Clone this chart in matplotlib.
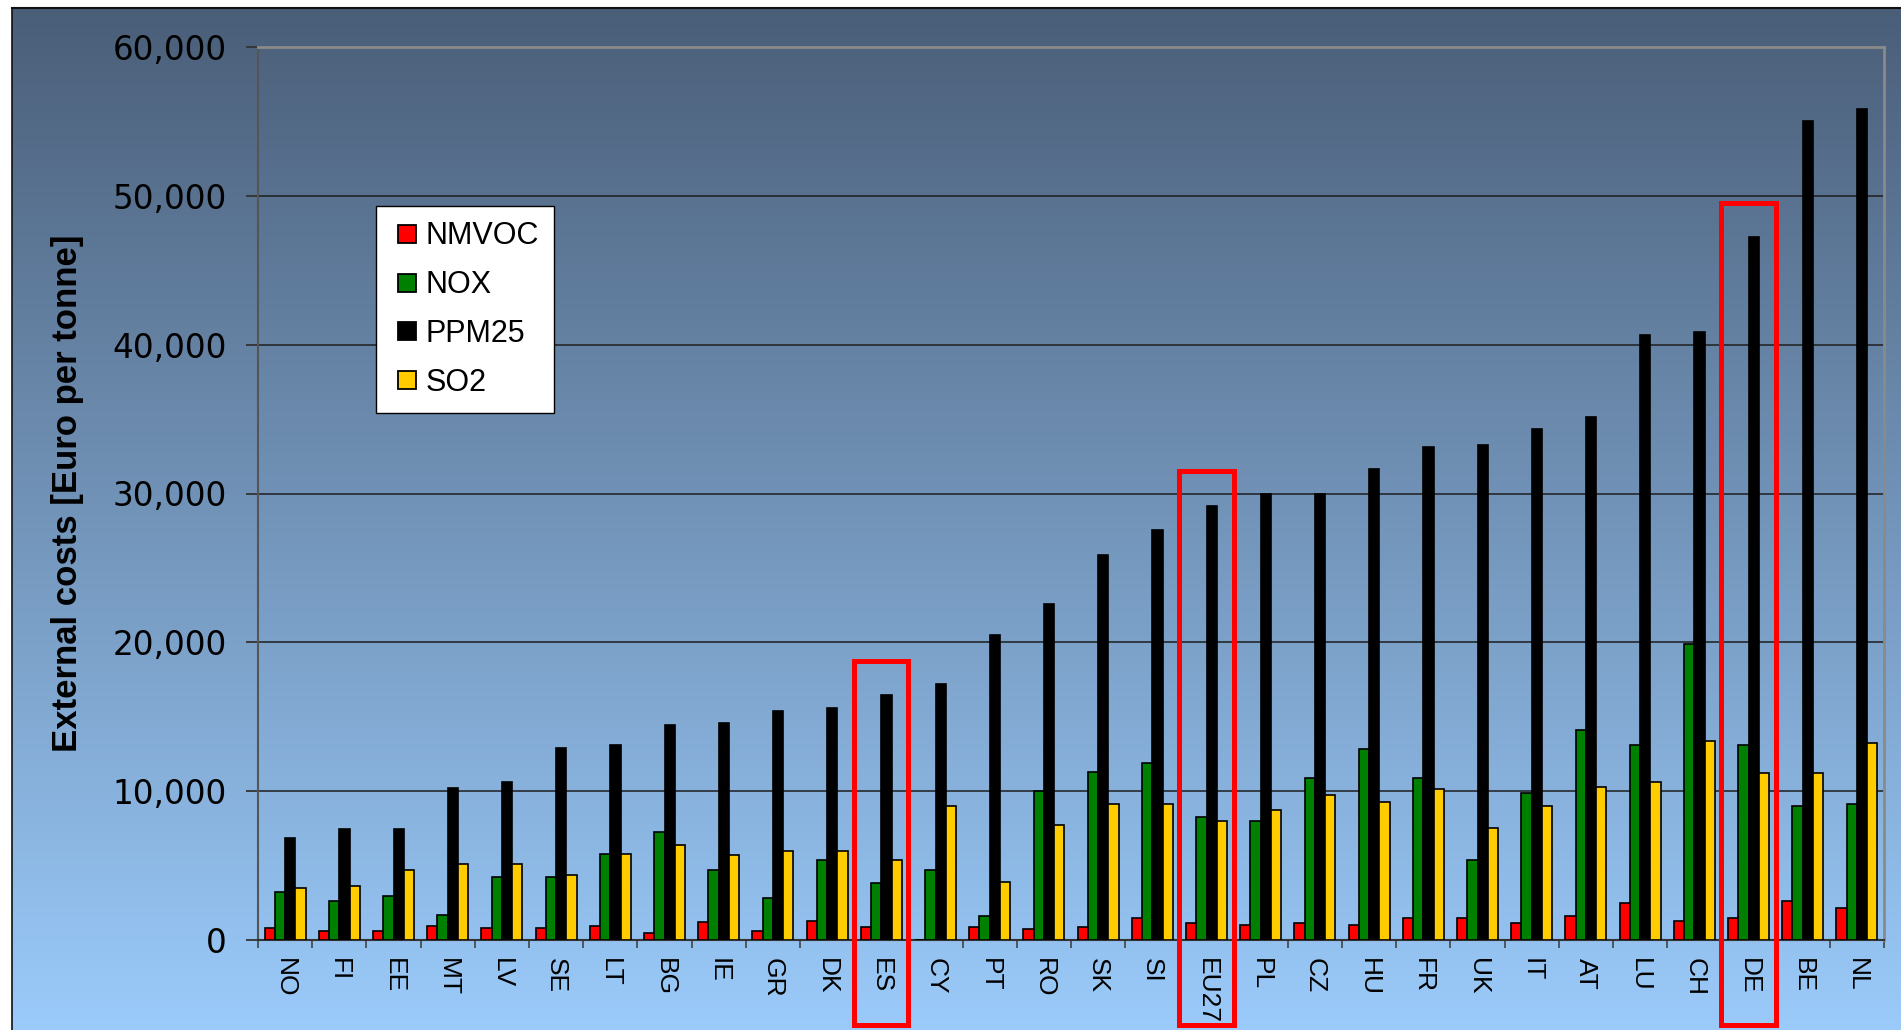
import numpy as np
import matplotlib
matplotlib.use("Agg")
import matplotlib.pyplot as plt
from matplotlib.patches import Rectangle
from matplotlib.lines import Line2D
from matplotlib import transforms, font_manager, colors as mcolors

# ---- data -------------------------------------------------------------
countries = ["NO", "FI", "EE", "MT", "LV", "SE", "LT", "BG", "IE", "GR",
             "DK", "ES", "CY", "PT", "RO", "SK", "SI", "EU27", "PL", "CZ",
             "HU", "FR", "UK", "IT", "AT", "LU", "CH", "DE", "BE", "NL"]
nmvoc = [780, 620, 620, 935, 780, 780, 935, 470, 1200, 620,
         1300, 870, 0, 870, 720, 870, 1450, 1160, 1030, 1160,
         1030, 1450, 1450, 1160, 1590, 2460, 1300, 1450, 2600, 2170]
nox = [3230, 2650, 2940, 1650, 4230, 4230, 5810, 7280, 4680, 2800,
       5370, 3800, 4680, 1610, 10020, 11320, 11900, 8280, 7990, 10890,
       12800, 10890, 5370, 9870, 14120, 13090, 19910, 13090, 8990, 9150]
ppm25 = [6860, 7440, 7440, 10200, 10620, 12900, 13100, 14430, 14590, 15400,
         15570, 16440, 17180, 20510, 22580, 25840, 27550, 29180, 30000, 30000,
         31630, 33100, 33260, 34320, 35130, 40680, 40840, 47250, 55000, 55850]
so2 = [3520, 3650, 4680, 5100, 5100, 4390, 5810, 6390, 5680, 5970,
       5950, 5370, 9020, 3910, 7700, 9150, 9150, 7990, 8720, 9730,
       9280, 10160, 7540, 8990, 10310, 10600, 13360, 11190, 11190, 13220]
series_names = ["NMVOC", "NOX", "PPM25", "SO2"]
series_colors = ["#ff0000", "#008000", "#000000", "#ffcc00"]
highlighted = ["ES", "EU27", "DE"]
y_ticks = [0, 10000, 20000, 30000, 40000, 50000, 60000]

# ---- fonts ------------------------------------------------------------
available = {f.name for f in font_manager.fontManager.ttflist}
if "Liberation Sans Narrow" in available:
    label_font, label_size = "Liberation Sans Narrow", 28
else:
    label_font, label_size = "Liberation Sans", 25
text_font = "Liberation Sans"

W, H = 1901, 1030
fig = plt.figure(figsize=(W / 100, H / 100), dpi=100)
fig.patch.set_facecolor("white")

# ---- gradient backdrop ------------------------------------------------
bg = fig.add_axes([12 / W, 0, 1 - 12 / W, 1 - 8 / H])
bg.set_axis_off()
c_top = np.array(mcolors.to_rgb("#4a5e78"))
c_bot = np.array(mcolors.to_rgb("#9bcbfb"))
t = np.linspace(0, 1, 512)[:, None]
grad = c_top + (c_bot - c_top) * t
bg.imshow(grad[:, None, :], aspect="auto", extent=[0, 1, 0, 1], origin="upper")
fig.add_artist(Line2D([12 / W, 12 / W], [0, 1 - 8 / H], color="#111111", lw=1.2,
                      transform=fig.transFigure))
fig.add_artist(Line2D([12 / W, 1], [1 - 8 / H, 1 - 8 / H], color="#111111", lw=1.5,
                      transform=fig.transFigure))

# ---- main chart -------------------------------------------------------
ax = fig.add_axes([258 / W, 90 / H, (1884 - 258) / W, (983 - 90) / H])
ax.patch.set_alpha(0)

n = len(countries)
x = np.arange(n)
w = 0.19
for k, (vals, col, name) in enumerate(zip([nmvoc, nox, ppm25, so2],
                                          series_colors, series_names)):
    ax.bar(x + (k - 1.5) * w, vals, w, color=col, edgecolor="black",
           linewidth=1.2, label=name, zorder=3)

ax.set_xlim(-0.5, n - 0.5)
ax.set_ylim(y_ticks[0], y_ticks[-1])
ax.hlines(y_ticks[1:-1], -0.5, n - 0.5, color="#1e1e1e", lw=1.1, zorder=1)

ax.spines["left"].set_color("#555555")
ax.spines["left"].set_linewidth(1.5)
ax.spines["bottom"].set_color("#333333")
ax.spines["bottom"].set_linewidth(1.5)
for side in ("top", "right"):
    ax.spines[side].set_color("#8a8a8a")
    ax.spines[side].set_linewidth(2)

ax.set_yticks(y_ticks)
ax.set_yticklabels([f"{v:,}" for v in y_ticks], family="DejaVu Sans", fontsize=23.5)
ax.tick_params(axis="y", length=8.6, width=1.3, color="#333333", pad=14)

ax.set_xticks(x)
ax.set_xticklabels(countries, rotation=270, fontsize=19, family=text_font)
ax.tick_params(axis="x", which="major", length=0, pad=13)
ax.set_xticks(np.arange(-0.5, n, 1), minor=True)
ax.tick_params(axis="x", which="minor", length=6, width=1.2, color="#444444")

# ---- highlight frames -------------------------------------------------
blend = transforms.blended_transform_factory(ax.transData, ax.transAxes)
bottom_frac = (5.5 - 90) / (983 - 90)
for name in highlighted:
    i = countries.index(name)
    top_val = max(nmvoc[i], nox[i], ppm25[i], so2[i]) + 2300
    top_frac = top_val / y_ticks[-1]
    ax.add_patch(Rectangle((i - 0.5, bottom_frac), 1.0, top_frac - bottom_frac,
                           transform=blend, fill=False, edgecolor="#ff0000",
                           lw=3.6, clip_on=False, zorder=6))

# ---- legend -----------------------------------------------------------
handles = [Line2D([], [], ls="none", marker="s", markersize=12.5,
                  markerfacecolor=c, markeredgecolor="black", markeredgewidth=1.3)
           for c in series_colors]
leg = fig.legend(handles, series_names, loc="upper left",
                 bbox_to_anchor=(376 / W, 1 - 206 / H), bbox_transform=fig.transFigure,
                 prop={"family": text_font, "size": 22},
                 frameon=True, fancybox=False, edgecolor="black", facecolor="white",
                 framealpha=1, borderaxespad=0, borderpad=0.5,
                 handlelength=1.0, handletextpad=0.12, labelspacing=0.62)
leg.get_frame().set_linewidth(1.0)

# ---- axis title -------------------------------------------------------
fig.text(68 / W, 1 - 493 / H, "External costs [Euro per tonne]", rotation=90,
         ha="center", va="center", fontsize=label_size, fontweight="bold",
         family=label_font)

fig.savefig("out.png", dpi=100)
